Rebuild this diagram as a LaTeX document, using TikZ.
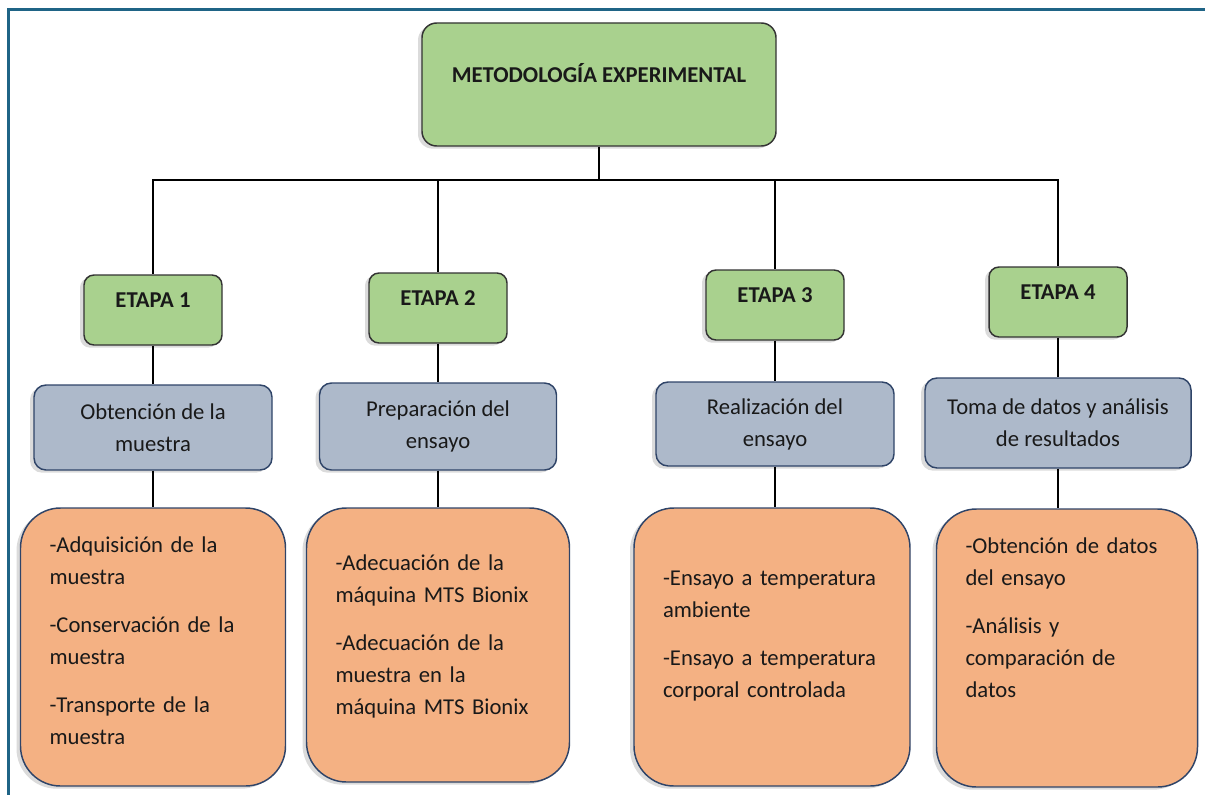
\documentclass[tikz,border=0pt]{standalone}
\usepackage{fontspec}
\setmainfont{Carlito}
\usetikzlibrary{shadows}
\definecolor{framecol}{HTML}{1F6486}
\definecolor{stagegreen}{HTML}{A9D18E}
\definecolor{topicblue}{HTML}{ADB9CA}
\definecolor{taskorange}{HTML}{F4B183}
\definecolor{edgeblue}{HTML}{2F4468}

\begin{document}
\begin{tikzpicture}[x=0.75pt,y=-0.75pt,
    softshadow/.style={drop shadow={shadow xshift=-3pt,shadow yshift=-2pt,
      opacity=.14,fill=black}},
    box/.style={softshadow,line width=1.1pt,text=black!90,
      font=\fontsize{17}{24}\selectfont},
    head/.style={box,draw=black!80,fill=stagegreen,rounded corners=11pt,
      font=\fontsize{17}{24}\selectfont\bfseries},
    stage/.style={head,rounded corners=7.5pt,minimum width=103.5pt,
      minimum height=52.5pt,text depth=15pt},
    topic/.style={box,draw=edgeblue,fill=topicblue,rounded corners=9pt,
      align=center},
    task/.style={box,draw=edgeblue,fill=taskorange,rounded corners=30pt,
      align=left,inner xsep=21.75pt},
    link/.style={line width=2.2pt,black}
  ]
  \useasboundingbox (0,0) rectangle (1205,795);
  % Frame on the left and on top
  \draw[framecol,line width=2.25pt] (8,795) -- (8,10) -- (1205,10);

  % Title
  \node[head,minimum width=265.5pt,minimum height=92.25pt,text depth=18pt]
    (top) at (599,84.5) {METODOLOGÍA EXPERIMENTAL};
  \coordinate (bus) at (599,180);

  % The four stages
  \node[stage] (e1) at (153,310) {ETAPA 1};
  \node[stage] (e2) at (438,308) {ETAPA 2};
  \node[stage] (e3) at (775,305) {ETAPA 3};
  \node[stage] (e4) at (1058,302) {ETAPA 4};

  % What each stage is about
  \node[topic,minimum width=178.5pt,minimum height=63.75pt]
    (b1) at (153,427.5) {Obtención de la\\muestra};
  \node[topic,minimum width=177.75pt,minimum height=65.25pt]
    (b2) at (438,426.5) {Preparación del\\ensayo};
  \node[topic,minimum width=178.5pt,minimum height=63pt]
    (b3) at (775,424) {Realización del\\ensayo};
  \node[topic,minimum width=199.5pt,minimum height=67.5pt]
    (b4) at (1058,423) {Toma de datos y análisis\\de resultados};

  % Tasks of each stage (text depth lifts the lines inside the box)
  \node[task,text width=155.25pt,minimum height=208.5pt,text depth=153pt]
    (o1) at (153,647) {-Adquisición de la\\muestra\\[12pt]
      -Conservación de la\\muestra\\[12pt]-Transporte de la\\muestra};
  \node[task,text width=153.75pt,minimum height=205.5pt,text depth=124pt]
    (o2) at (438,645) {-Adecuación de la\\máquina MTS Bionix\\[12pt]
      -Adecuación de la\\muestra en la\\máquina MTS Bionix};
  \node[task,text width=163.5pt,minimum height=208.5pt,text depth=103pt]
    (o3) at (772,647) {-Ensayo a temperatura\\ambiente\\[12pt]
      -Ensayo a temperatura\\corporal controlada};
  \node[task,text width=152.25pt,minimum height=208.5pt,text depth=154pt]
    (o4) at (1067,648) {-Obtención de datos\\del ensayo\\[12pt]
      -Análisis y\\comparación de\\datos};

  % Connectors
  \draw[link] (top.south) -- (bus);
  \foreach \n in {1,...,4} {
    \draw[link] (bus) -| (e\n.north);
    \draw[link] (e\n.south) -- (b\n.north);
    \draw[link] (b\n.south) -- (b\n.south |- o\n.north);
  }
\end{tikzpicture}
\end{document}
